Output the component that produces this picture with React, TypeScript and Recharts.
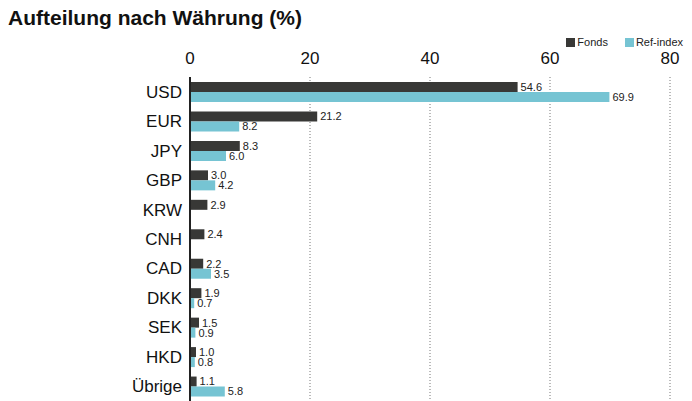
import React from 'react';
import { BarChart, Bar, XAxis, YAxis, CartesianGrid, Legend, LabelList } from 'recharts';

const currencies = ['USD', 'EUR', 'JPY', 'GBP', 'KRW', 'CNH', 'CAD', 'DKK', 'SEK', 'HKD', 'Übrige'];
const fonds = [54.6, 21.2, 8.3, 3.0, 2.9, 2.4, 2.2, 1.9, 1.5, 1.0, 1.1];
const refIndex = [69.9, 8.2, 6.0, 4.2, null, null, 3.5, 0.7, 0.9, 0.8, 5.8];
const xTicks = [0, 20, 40, 60, 80];

const data = currencies.map((name, i) => ({ name, fonds: fonds[i], refIndex: refIndex[i] }));

const FONT = '"Liberation Sans", Arial, Helvetica, sans-serif';
const DARK = '#383836';
const LIGHT = '#76c4d3';

const fmt = (v: any) => (v === null || v === undefined ? '' : Number(v).toFixed(1));

// simple legend: square + label, spaced like the original
const renderLegend = (props: any) => {
  const items = props.payload || [];
  return (
    <div style={{ display: 'flex', fontSize: 11, fontFamily: FONT, color: '#222', lineHeight: '12px' }}>
      {items.map((it: any, i: number) => (
        <div key={i} style={{ display: 'flex', alignItems: 'center', marginLeft: i === 0 ? 0 : 17 }}>
          <span style={{ display: 'inline-block', width: 9, height: 9, background: it.color, marginRight: 2 }} />
          <span>{it.value}</span>
        </div>
      ))}
    </div>
  );
};

const App: React.FC = () => {
  return (
    <div style={{ position: 'absolute', left: 0, top: 0, width: 692, height: 401, overflow: 'hidden', background: '#fff', fontFamily: FONT }}>
      <div style={{ position: 'absolute', left: 8, top: 6, fontSize: 21, fontWeight: 'bold', color: '#111' }}>
        Aufteilung nach Währung (%)
      </div>
      <div style={{ position: 'absolute', left: 0, top: 0 }}>
        <BarChart
          width={692}
          height={410}
          data={data}
          layout="vertical"
          margin={{ top: 50, right: 22, left: 0, bottom: 9 }}
          barGap={0}
          barSize={10}
        >
          <CartesianGrid horizontal={false} stroke="#777" strokeDasharray="1 2" />
          <XAxis
            type="number"
            orientation="top"
            domain={[0, 80]}
            ticks={xTicks}
            height={27}
            axisLine={false}
            tickLine={false}
            tickMargin={7}
            tick={{ fill: '#111', fontSize: 17, fontFamily: FONT }}
          />
          <YAxis
            type="category"
            dataKey="name"
            width={190}
            axisLine={{ stroke: '#222', strokeWidth: 2 }}
            tickLine={false}
            tickMargin={2}
            tick={{ fill: '#111', fontSize: 17, fontFamily: FONT }}
          />
          <Legend
            verticalAlign="middle"
            align="center"
            content={renderLegend}
            wrapperStyle={{ top: 36, right: 9, width: 'auto' }}
          />
          <Bar dataKey="fonds" name="Fonds" fill={DARK} isAnimationActive={false}>
            <LabelList dataKey="fonds" position="right" offset={3} formatter={fmt} style={{ fontSize: 11, fill: '#222', fontFamily: FONT }} />
          </Bar>
          <Bar dataKey="refIndex" name="Ref-index" fill={LIGHT} isAnimationActive={false}>
            <LabelList dataKey="refIndex" position="right" offset={3} formatter={fmt} style={{ fontSize: 11, fill: '#222', fontFamily: FONT }} />
          </Bar>
        </BarChart>
      </div>
    </div>
  );
};

export default App;
